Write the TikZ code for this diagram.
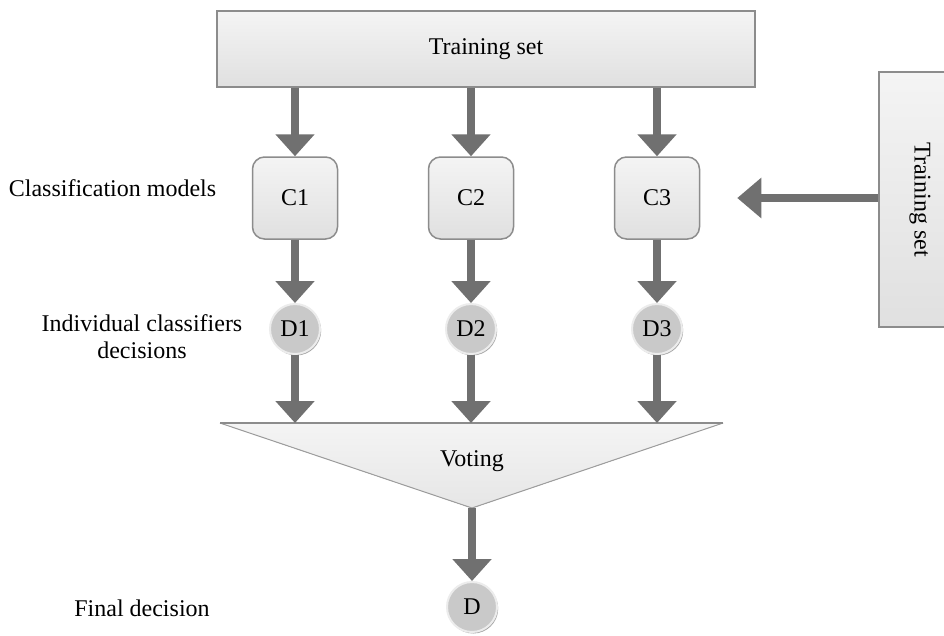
\documentclass[tikz,border=0pt]{standalone}
\usepackage{fontspec}
\setmainfont{Liberation Serif}
\usetikzlibrary{arrows.meta,shadows,calc}
\definecolor{arrowgray}{HTML}{707070}
\definecolor{boxedge}{HTML}{8C8C8C}
\definecolor{boxtop}{HTML}{F4F4F4}
\definecolor{boxbot}{HTML}{E0E0E0}
\definecolor{dfill}{HTML}{C9C9C9}
\definecolor{vfill}{HTML}{E6E6E6}
\tikzset{
  arr/.style={draw=arrowgray, line width=8pt, -{Triangle[width=38pt,length=22pt]}},
  bigbox/.style={rectangle, draw=boxedge, line width=1.5pt, top color=boxtop, bottom color=boxbot, inner sep=0pt},
  cbox/.style={rectangle, rounded corners=12pt, draw=boxedge, line width=1.5pt, top color=boxtop, bottom color=boxbot, minimum width=85pt, minimum height=82pt, inner sep=0pt},
  dnode/.style={circle, minimum size=50pt, inner sep=0pt, fill=dfill, draw=white!85!gray, line width=2pt,
     drop shadow={shadow xshift=1.2pt, shadow yshift=-1.5pt, opacity=0.35, fill=black}},
  lbl/.style={align=center, inner sep=0pt}
}
\begin{document}
\begin{tikzpicture}[x=1pt,y=-1pt, font=\fontsize{24}{27}\selectfont]
\clip (0,0) rectangle (944,635);
\fill[white] (0,0) rectangle (944,635);

% top training set box
\node[bigbox, minimum width=538pt, minimum height=76pt] (top) at (486,49) {Training set};
% right training set box (rotated)
\node[bigbox, rotate=-90, minimum width=255pt, minimum height=82pt] (side) at (920,199.5) {Training set};

% classification models
\node[cbox] (c1) at (295,198) {C1};
\node[cbox] (c2) at (471,198) {C2};
\node[cbox] (c3) at (657,198) {C3};

% decisions
\node[dnode] (d1) at (295,329) {D1};
\node[dnode] (d2) at (471,329) {D2};
\node[dnode] (d3) at (657,329) {D3};

% voting triangle
\coordinate (vl) at (220,423);
\coordinate (vr) at (723,423);
\coordinate (vapex) at (472,508);
\fill[top color=boxtop, bottom color=vfill] (vl) -- (vr) -- (vapex) -- cycle;
\draw[draw=boxedge!85!white, line width=1pt] (vl) -- (vapex) -- (vr);
\draw[draw=boxedge, line width=2pt] (vl) -- (vr);
\node[lbl] (vote) at (472,461) {Voting};

% final decision
\node[dnode] (d) at (472,607) {D};

% labels
\node[lbl] (lc) at (112.5,188) {Classification models};
\node[lbl] (li) at (142,337) {Individual classifiers\\decisions};
\node[lbl] (lf) at (142,608) {Final decision};

% arrows
\foreach \c in {c1,c2,c3}{
  \draw[arr] (\c |- top.south) -- (\c.north);
}
\draw[arr] (c1.south) -- (d1.north);
\draw[arr] (c2.south) -- (d2.north);
\draw[arr] (c3.south) -- (d3.north);
\foreach \dd in {d1,d2,d3}{
  \draw[arr] (\dd.south) -- (\dd |- vl);
}
\draw[arr] (vapex) -- (d.north);
\coordinate (c3in) at ($(c3.east)+(37,0)$);
\draw[arr, -{Triangle[width=39pt,length=24pt]}] (c3in -| side.south) -- (c3in);
\end{tikzpicture}
\end{document}
